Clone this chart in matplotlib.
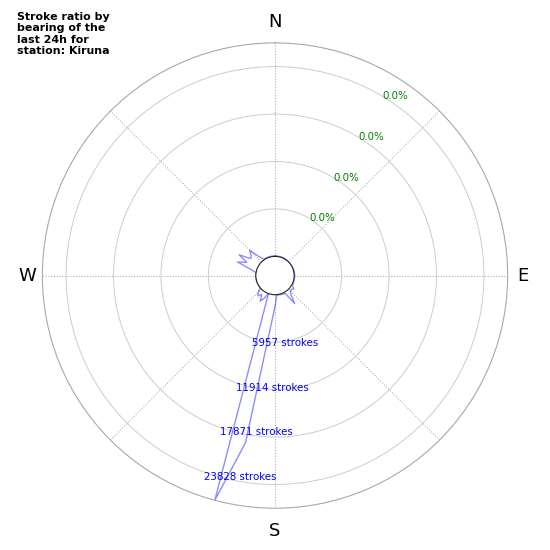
import numpy as np
import matplotlib
matplotlib.use("Agg")
import matplotlib.pyplot as plt

# strokes per 5 degree bearing bin (0 = north, clockwise)
bearings = list(range(0, 360, 5))
strokes = [60, 60, 60, 60, 60, 60, 60, 40, 0, 0, 0, 0,
           0, 0, 40, 60, 60, 60, 60, 60, 60, 60, 60, 80,
           100, 500, 300, 300, 700, 1900, 200, 150, 100, 80, 60, 60,
           1500, 4150, 18900, 26800, 0, 700, 1300, 500, 900, 600, 0, 0,
           0, 0, 0, 0, 0, 0, 0, 0, 100, 900, 2600, 1500,
           2800, 1300, 1500, 2100, 700, 100, 60, 60, 60, 60, 60, 60]
r_ticks = [5957, 11914, 17871, 23828]
r_max = 26806
pct_labels = ['0.0%', '0.0%', '0.0%', '0.0%']
compass = ['N', 'E', 'S', 'W']
compass_deg = [0, 90, 180, 270]
station = 'Kiruna'

theta = np.deg2rad(bearings + [bearings[0]])
values = strokes + [strokes[0]]

fig = plt.figure(figsize=(5.5, 5.5), dpi=100)
ax = fig.add_axes([0.077, 0.076, 0.846, 0.846], projection='polar')
ax.set_theta_zero_location('N')
ax.set_theta_direction(-1)

ax.plot(theta, values, color='blue', alpha=0.45, linewidth=1)

ax.set_ylim(0, r_max)
ax.set_rorigin(-0.0898 * r_max)

ax.set_thetagrids(range(0, 360, 45), [''] * 8)
ax.set_rgrids(r_ticks, [''] * len(r_ticks))
ax.xaxis.grid(True, linestyle=':', color='#aaaaaa', linewidth=0.75)
ax.yaxis.grid(True, linestyle='-', color='#cccccc', linewidth=0.7)
ax.spines['polar'].set_color('#a8a8a8')
ax.spines['polar'].set_linewidth(0.8)
ax.spines['inner'].set_color('#222222')
ax.spines['inner'].set_linewidth(0.8)

# compass labels just outside the outer ring
pad = {'N': 2650, 'E': 1850, 'S': 2850, 'W': 1900}
for lab, d in zip(compass, compass_deg):
    ax.text(np.deg2rad(d), r_max + pad[lab], lab, fontsize=13,
            ha='center', va='center', clip_on=False)

for t in r_ticks:
    ax.text(np.deg2rad(200), t, str(t) + ' strokes', color='blue',
            fontsize=7.4, ha='left', va='top')

for t, lab in zip(r_ticks, pct_labels):
    ax.text(np.deg2rad(31), t, lab, color='green', fontsize=7.4,
            ha='left', va='center')

fig.text(0.031, 0.979, 'Stroke ratio by\nbearing of the\nlast 24h for\nstation: ' + station,
         fontsize=7.9, fontweight='bold', va='top', ha='left', linespacing=1.2)

fig.savefig('out.png', dpi=100)
